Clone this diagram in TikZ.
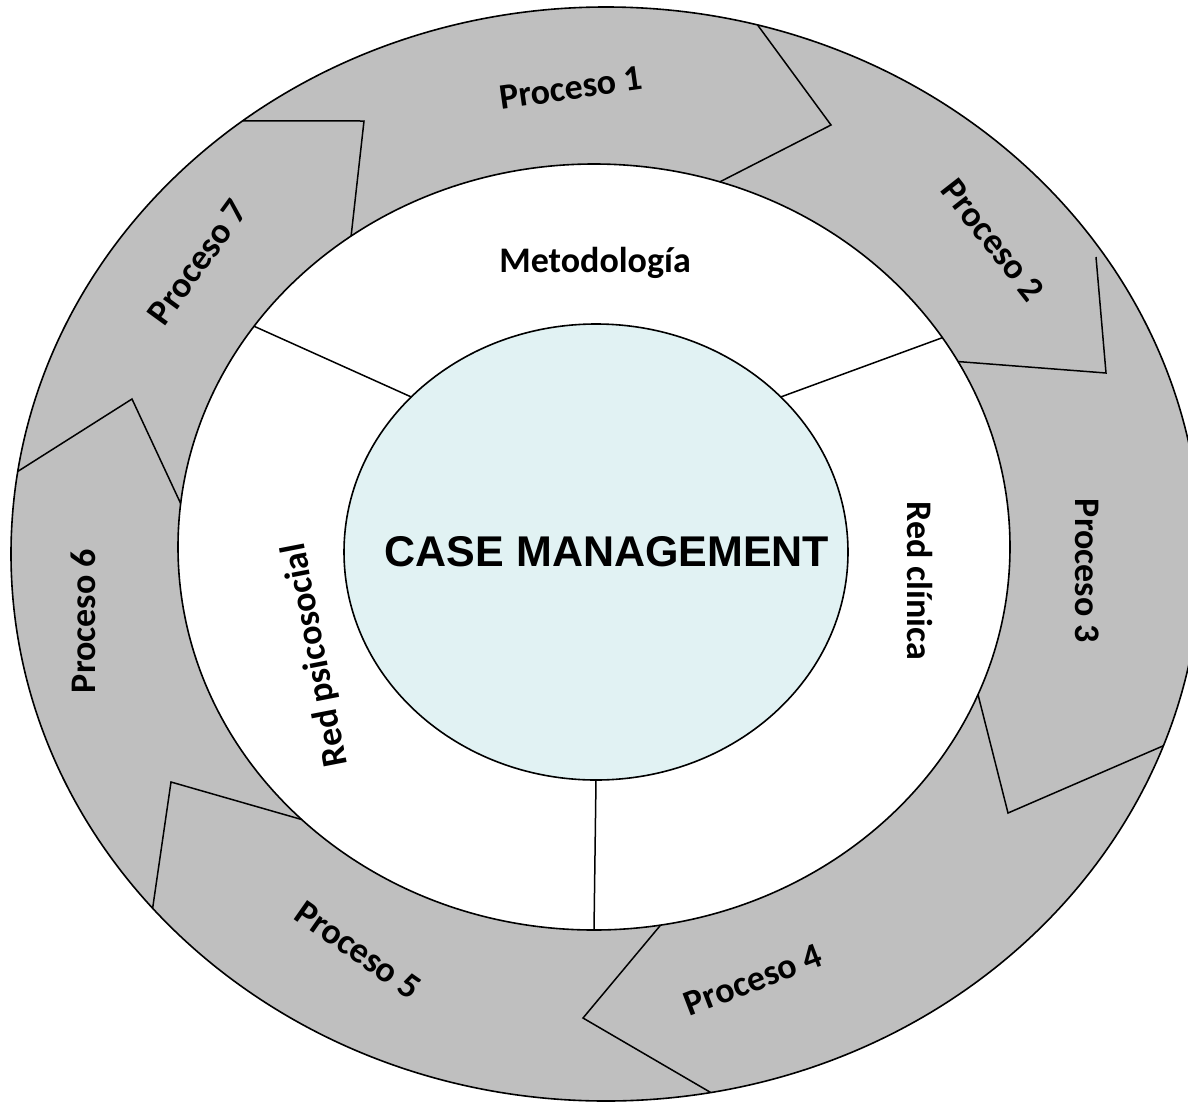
\documentclass[tikz,border=0pt]{standalone}
\usepackage{fontspec}
\setmainfont{Carlito}
\newfontfamily\arialfont{Liberation Sans}
\usetikzlibrary{shapes.geometric}
\definecolor{ringgray}{RGB}{191,191,191}
\definecolor{corefill}{RGB}{225,242,243}
\begin{document}
\begin{tikzpicture}[x=1pt,y=-1pt,
  ring/.style={ellipse, draw=black, line width=1.6pt, inner sep=0pt, outer sep=0pt},
  lbl/.style={font=\fontsize{36}{40}\selectfont\bfseries, inner sep=0pt},
  divider/.style={draw=black, line width=1.5pt, line join=miter}]
\useasboundingbox (0,0) rectangle (1188,1103);
\clip (0,0) rectangle (1188,1103);
% rings
\node[ring, fill=ringgray, minimum width=1190pt, minimum height=1094pt] (outer) at (606,554) {};
\node[ring, fill=white, minimum width=832pt, minimum height=766pt] (inner) at (594,547) {};
\node[ring, fill=corefill, minimum width=504pt, minimum height=456pt] (core) at (596,552) {};
% inner ring dividers
\draw[divider] (core.140) -- (inner.147.7);
\draw[divider] (core.40.5) -- (inner.31.8);
\draw[divider] (core.270) -- (inner.270);
% outer ring chevron dividers
\coordinate (t71) at (364,121);
\coordinate (t12) at (831,125);
\coordinate (t23) at (1106,373);
\coordinate (e23) at (1096,257);
\coordinate (t34) at (1008,813);
\coordinate (t45) at (583,1018);
\coordinate (t56) at (171,782);
\coordinate (t67) at (132,399);
\draw[divider] (outer.130.8) -- (t71) -- (inner.128.2);
\draw[divider] (outer.74.2) -- (t12) -- (inner.71.0);
\draw[divider] (inner.27.0) -- (t23) -- (e23);
\draw[divider] (inner.-21.7) -- (t34) -- (outer.-19.1);
\draw[divider] (inner.-80.2) -- (t45) -- (outer.-79.5);
\draw[divider] (outer.-142.0) -- (t56) -- (inner.-137.6);
\draw[divider] (outer.172.5) -- (t67) -- (inner.174.2);
% labels
\node[font=\arialfont\fontsize{43}{47}\selectfont\bfseries, inner sep=0pt] (cm) at (607,552) {CASE MANAGEMENT};
\node[lbl] (met) at (595,263) {Metodología};
\node[lbl, rotate=-90] (rcl) at (920,581) {Red clínica};
\node[lbl, rotate=101] (rps) at (316,655) {Red psicosocial};
\node[lbl, rotate=8] (p1) at (571,88) {Proceso 1};
\node[lbl, rotate=-52] (p2) at (993,240) {Proceso 2};
\node[lbl, rotate=-90] (p3) at (1087,571) {Proceso 3};
\node[lbl, rotate=21] (p4) at (753,980) {Proceso 4};
\node[lbl, rotate=-35] (p5) at (358,950) {Proceso 5};
\node[lbl, rotate=90] (p6) at (83,621) {Proceso 6};
\node[lbl, rotate=54] (p7) at (198,262) {Proceso 7};
\end{tikzpicture}
\end{document}
